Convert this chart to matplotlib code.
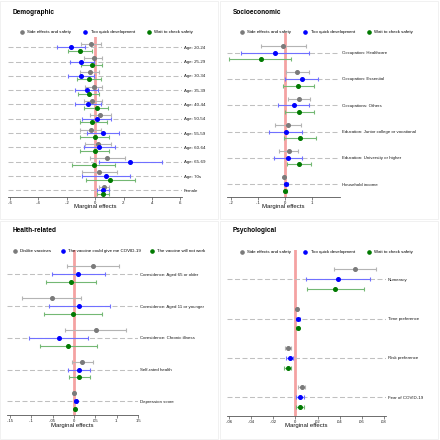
"""
Coefplot-style marginal effects, four panels (Stata look)
"""
import matplotlib
matplotlib.use("Agg")
import matplotlib.pyplot as plt
from matplotlib.lines import Line2D
from matplotlib.patches import Rectangle

plt.rcParams["font.family"] = ["Liberation Sans", "DejaVu Sans"]
plt.rcParams["lines.scale_dashes"] = False

# ---- Demographic ----
demo_labels = ["Age: 20-24", "Age: 25-29", "Age: 30-34", "Age: 35-39", "Age: 40-44",
               "Age: 50-54", "Age: 55-59", "Age: 60-64", "Age: 65-69", "Age: 70s", "Female"]
demo_side_est = [-0.03, -0.01, -0.04, -0.01, -0.02, 0.035, -0.03, 0.02, 0.085, 0.025, 0.065]
demo_side_lo = [-0.10, -0.08, -0.11, -0.07, -0.08, -0.04, -0.11, -0.07, -0.04, -0.095, 0.03]
demo_side_hi = [0.04, 0.045, 0.03, 0.05, 0.045, 0.11, 0.04, 0.11, 0.21, 0.15, 0.10]
demo_quick_est = [-0.17, -0.10, -0.10, -0.06, -0.05, 0.01, 0.055, 0.03, 0.245, 0.075, 0.055]
demo_quick_lo = [-0.27, -0.18, -0.19, -0.14, -0.14, -0.09, -0.06, -0.08, 0.025, -0.095, 0.01]
demo_quick_hi = [-0.07, -0.01, -0.01, 0.02, 0.04, 0.11, 0.17, 0.14, 0.47, 0.245, 0.10]
demo_wait_est = [-0.11, -0.02, -0.045, -0.045, 0.01, -0.02, -0.005, -0.005, -0.01, 0.105, 0.055]
demo_wait_lo = [-0.19, -0.10, -0.13, -0.12, -0.08, -0.11, -0.11, -0.11, -0.16, -0.065, 0.015]
demo_wait_hi = [-0.02, 0.05, 0.04, 0.03, 0.09, 0.08, 0.095, 0.10, 0.14, 0.28, 0.10]

# ---- Socioeconomic ----
socio_labels = ["Occupation: Healthcare", "Occupation: Essential", "Occupations: Others",
                "Education: Junior college or vocational", "Education: University or higher",
                "Household income"]
socio_side_est = [-0.006, 0.046, 0.052, 0.012, 0.014, -0.002]
socio_side_lo = [-0.09, 0.002, 0.011, -0.037, -0.022, -0.005]
socio_side_hi = [0.078, 0.088, 0.094, 0.06, 0.05, 0.001]
socio_quick_est = [-0.036, 0.062, 0.033, 0.002, 0.01, 0.004]
socio_quick_lo = [-0.162, 0.0, -0.025, -0.06, -0.04, -0.002]
socio_quick_hi = [0.09, 0.122, 0.09, 0.064, 0.062, 0.010]
socio_wait_est = [-0.09, 0.049, 0.053, 0.054, 0.052, 0.001]
socio_wait_lo = [-0.206, -0.006, 0.0, -0.005, 0.007, -0.005]
socio_wait_hi = [0.023, 0.106, 0.106, 0.114, 0.098, 0.006]

# ---- Health-related ----
health_labels = ["Coresidence: Aged 65 or older", "Coresidence: Aged 11 or younger",
                 "Coresidence: Chronic illness", "Self-rated health", "Depression score"]
health_dislike_est = [0.044, -0.052, 0.052, 0.0195, 0.0]
health_dislike_lo = [-0.016, -0.121, -0.02, -0.005, -0.002]
health_dislike_hi = [0.105, 0.016, 0.123, 0.045, 0.002]
health_covid_est = [0.010, 0.0125, -0.036, 0.012, 0.004]
health_covid_lo = [-0.051, -0.059, -0.105, -0.014, 0.001]
health_covid_hi = [0.072, 0.085, 0.034, 0.0375, 0.007]
health_notwork_est = [-0.008, -0.002, -0.013, 0.0125, 0.003]
health_notwork_lo = [-0.066, -0.071, -0.08, -0.0125, 0.0]
health_notwork_hi = [0.051, 0.066, 0.055, 0.0375, 0.006]

# ---- Psychological ----
psych_labels = ["Numeracy", "Time preference", "Risk preference", "Fear of COVID-19"]
psych_side_est = [0.054, 0.0015, -0.0067, 0.0058]
psych_side_lo = [0.035, 0.0009, -0.0094, 0.0027]
psych_side_hi = [0.073, 0.0022, -0.0042, 0.0088]
psych_quick_est = [0.039, 0.0024, -0.005, 0.004]
psych_quick_lo = [0.0097, 0.0009, -0.0085, 0.0003]
psych_quick_hi = [0.068, 0.0039, -0.002, 0.0079]
psych_wait_est = [0.036, 0.002, -0.007, 0.0042]
psych_wait_lo = [0.010, 0.0008, -0.010, 0.0009]
psych_wait_hi = [0.062, 0.0033, -0.004, 0.0079]

safety_names = ["Side effects and safety", "Too quick development", "Wait to check safety"]
health_names = ["Dislike vaccines", "The vaccine could give me COVID-19", "The vaccine will not work"]

MARK = ["#7a7a7a", "#0000ff", "#007a00"]
CI = ["#b4b4b4", "#7070ff", "#74b874"]
W = H = 440.0


def px_rect(left, right, top, bottom):
    return [left / W, 1 - bottom / H, (right - left) / W, (bottom - top) / H]


def panel(fig, title, title_xy, labels, series, names, xlim, ticks, ticklabels,
          left, right, row0, step, bottom, label_y, legend_x, legend_y, colsp):
    n = len(labels)
    top = row0 - 0.75 * step
    ax = fig.add_axes(px_rect(left, right, top, bottom))
    ax.set_xlim(*xlim)
    ax.set_ylim((bottom - row0) / step, (top - row0) / step)
    ax.axvline(0, color="#f4a2a2", lw=2.0, zorder=1)
    rows = list(range(n))
    for k, (est, lo, hi) in enumerate(series):
        off = (k - 1) * 0.25
        y = [r + off for r in rows]
        err = [[e - l for e, l in zip(est, lo)], [h - e for e, h in zip(est, hi)]]
        ax.errorbar(est, y, xerr=err, fmt="o", ms=2.6, mfc=MARK[k], mec=MARK[k],
                    ecolor=CI[k], elinewidth=0.8, capsize=1.7, capthick=0.8, zorder=3)
    ax.set_yticks(rows)
    ax.set_yticklabels(labels)
    ax.yaxis.tick_right()
    ax.tick_params(axis="y", length=0, pad=1.7, labelsize=3.2, labelcolor="#1a1a1a")
    ax.grid(axis="y", color="#c0c0c0", lw=0.75, ls=(0, (3.6, 1.8)), zorder=0)
    ax.set_xticks(ticks)
    ax.set_xticklabels(ticklabels)
    ax.tick_params(axis="x", length=2.0, width=0.5, pad=0.8, labelsize=3.0,
                   color="#555555", labelcolor="#1a1a1a")
    for s in ["left", "right", "top"]:
        ax.spines[s].set_visible(False)
    ax.spines["bottom"].set_color("#555555")
    ax.spines["bottom"].set_linewidth(0.6)
    ax.set_xlabel("Marginal effects", fontsize=4.3, color="#111111")
    hpx = bottom - top
    ax.xaxis.set_label_coords(0.5, -(label_y - 2.9 - bottom) / hpx)
    fig.text(title_xy[0] / W, 1 - title_xy[1] / H, title, fontsize=4.7,
             fontweight="bold", va="center", ha="left")
    handles = [Line2D([], [], ls="none", marker="o", ms=2.3, mfc=MARK[k], mec=MARK[k])
               for k in range(3)]
    fig.legend(handles, names, loc="center left", ncol=3, frameon=False,
               bbox_to_anchor=(legend_x / W, 1 - legend_y / H), fontsize=3.2,
               handlelength=0.8, handletextpad=0.8, columnspacing=colsp,
               borderpad=0, borderaxespad=0)
    return ax


fig = plt.figure(figsize=(4.4, 4.4), dpi=100)

for x0, y0 in [(0, 0), (220, 0), (0, 220), (220, 220)]:
    fig.add_artist(Rectangle((x0 / W + 0.001, 1 - (y0 + 219) / H), 218 / W, 218 / H,
                             transform=fig.transFigure, fill=False, ec="#ececec", lw=0.5))

panel(fig, "Demographic", (13, 12), demo_labels,
      [(demo_side_est, demo_side_lo, demo_side_hi),
       (demo_quick_est, demo_quick_lo, demo_quick_hi),
       (demo_wait_est, demo_wait_lo, demo_wait_hi)], safety_names,
      (-0.612, 0.609), [-0.6, -0.4, -0.2, 0, 0.2, 0.4, 0.6],
      ["-.6", "-.4", "-.2", "0", ".2", ".4", ".6"],
      8.3, 181.7, 47.3, 14.3, 196.7, 207.0, 20.0, 32.3, 2.8)

panel(fig, "Socioeconomic", (233, 12), socio_labels,
      [(socio_side_est, socio_side_lo, socio_side_hi),
       (socio_quick_est, socio_quick_lo, socio_quick_hi),
       (socio_wait_est, socio_wait_lo, socio_wait_hi)], safety_names,
      (-0.2136, 0.2037), [-0.2, -0.1, 0, 0.1], ["-.2", "-.1", "0", ".1"],
      227.3, 340.0, 52.7, 26.27, 197.1, 206.7, 240.0, 32.3, 2.8)

panel(fig, "Health-related", (13, 230.7), health_labels,
      [(health_dislike_est, health_dislike_lo, health_dislike_hi),
       (health_covid_est, health_covid_lo, health_covid_hi),
       (health_notwork_est, health_notwork_lo, health_notwork_hi)], health_names,
      (-0.156, 0.15), [-0.15, -0.1, -0.05, 0, 0.05, 0.1, 0.15],
      ["-.15", "-.1", "-.05", "0", ".05", ".1", ".15"],
      7.3, 138.0, 274.3, 31.75, 415.0, 425.7, 13.3, 251.3, 2.1)

panel(fig, "Psychological", (233, 230.7), psych_labels,
      [(psych_side_est, psych_side_lo, psych_side_hi),
       (psych_quick_est, psych_quick_lo, psych_quick_hi),
       (psych_wait_est, psych_wait_lo, psych_wait_hi)], safety_names,
      (-0.0618, 0.0818), [-0.06, -0.04, -0.02, 0, 0.02, 0.04, 0.06, 0.08],
      ["-.06", "-.04", "-.02", "0", ".02", ".04", ".06", ".08"],
      227.3, 385.7, 279.3, 39.3, 416.0, 426.3, 240.0, 252.0, 2.8)

fig.savefig("out.png", dpi=100, facecolor="white")
plt.close(fig)
